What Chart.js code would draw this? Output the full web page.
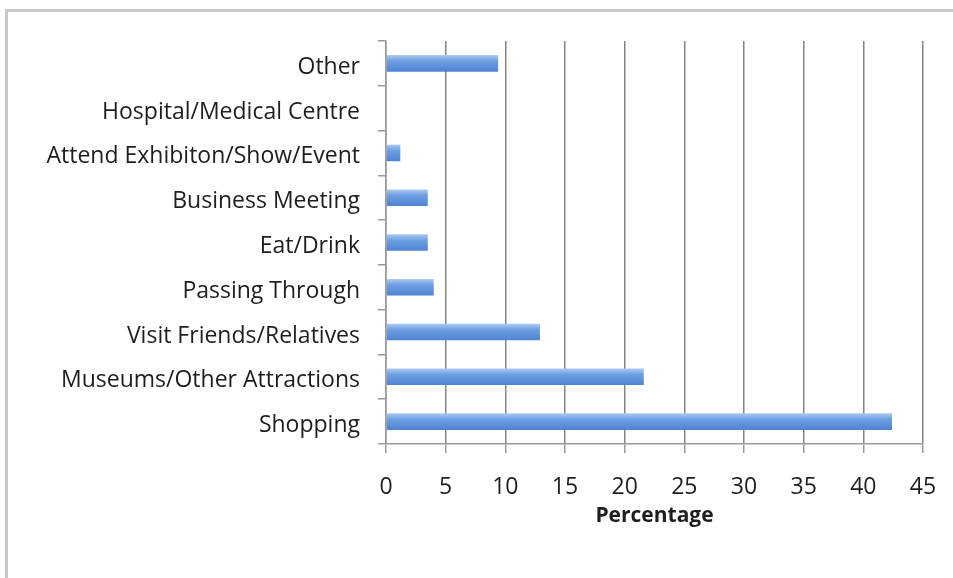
<!DOCTYPE html>
<html>
<head>
<meta charset="utf-8">
<script src="https://cdn.jsdelivr.net/npm/chart.js@4/dist/chart.umd.min.js"></script>
<style>
  html, body { margin: 0; padding: 0; background: #fff; }
  #wrap { width: 953px; height: 578px; position: relative; }
</style>
</head>
<body>
<div id="wrap"><canvas id="purposeChart"></canvas></div>
<script>
const categories = [
  'Other',
  'Hospital/Medical Centre',
  'Attend Exhibiton/Show/Event',
  'Business Meeting',
  'Eat/Drink',
  'Passing Through',
  'Visit Friends/Relatives',
  'Museums/Other Attractions',
  'Shopping'
];
const percentages = [9.4, 0, 1.2, 3.5, 3.5, 4.0, 12.9, 21.6, 42.4];
const xTicks = [0, 5, 10, 15, 20, 25, 30, 35, 40, 45];

const labelFont = { family: "'Open Sans', 'Noto Sans', sans-serif", size: 23 };

// light grey frame round the chart (only top and left edges are visible)
const framePlugin = {
  id: 'frame',
  beforeDraw(chart) {
    const ctx = chart.ctx;
    ctx.save();
    ctx.strokeStyle = '#c8c8c8';
    ctx.lineWidth = 3;
    ctx.beginPath();
    ctx.moveTo(6.5, 600);
    ctx.lineTo(6.5, 10.5);
    ctx.lineTo(960, 10.5);
    ctx.stroke();
    ctx.restore();
  }
};

function barFill(c) {
  const chart = c.chart;
  const y = chart.scales && chart.scales.y;
  if (!y || c.dataIndex === undefined) return '#6a9be0';
  const cy = y.getPixelForValue(c.dataIndex);
  if (!Number.isFinite(cy)) return '#6a9be0';
  const g = chart.ctx.createLinearGradient(0, cy - 8, 0, cy + 8);
  g.addColorStop(0, '#a9c8f2');
  g.addColorStop(0.35, '#6e9fe2');
  g.addColorStop(1, '#4f84d2');
  return g;
}

new Chart(document.getElementById('purposeChart').getContext('2d'), {
  type: 'bar',
  data: {
    labels: categories,
    datasets: [{
      label: 'Percentage',
      data: percentages,
      backgroundColor: barFill,
      borderWidth: 0,
      barPercentage: 0.37,
      categoryPercentage: 1
    }]
  },
  options: {
    indexAxis: 'y',
    responsive: true,
    maintainAspectRatio: false,
    animation: false,
    layout: { padding: { top: 41, right: 30, left: 0, bottom: 0 } },
    plugins: {
      legend: { display: false },
      tooltip: { enabled: false }
    },
    scales: {
      x: {
        min: 0,
        max: 45,
        afterBuildTicks: s => { s.ticks = xTicks.map(v => ({ value: v })); },
        afterFit: s => { s.height = 134; s.paddingRight = 0; s.paddingLeft = 0; },
        border: { color: '#9a9a9a', width: 1.5 },
        grid: {
          color: 'rgba(110,110,110,0.85)',
          lineWidth: 1.5,
          tickLength: 9,
          tickColor: '#9a9a9a'
        },
        ticks: { color: '#1e1e1e', font: labelFont, padding: 21, maxRotation: 0 },
        title: {
          display: true,
          text: 'Percentage',
          color: '#1e1e1e',
          font: { family: "'Open Sans', 'Noto Sans', sans-serif", size: 21, weight: 'bold' },
          padding: { top: 0, bottom: 49 }
        }
      },
      y: {
        afterFit: s => { s.width = 386; s.paddingTop = 0; s.paddingBottom = 0; },
        border: { color: '#9a9a9a', width: 1.5 },
        grid: {
          drawOnChartArea: false,
          offset: true,
          tickLength: 8,
          tickColor: '#9a9a9a',
          lineWidth: 1.5
        },
        ticks: { color: '#1e1e1e', font: labelFont, padding: 18, autoSkip: false, labelOffset: 4 }
      }
    }
  },
  plugins: [framePlugin]
});
</script>
</body>
</html>
